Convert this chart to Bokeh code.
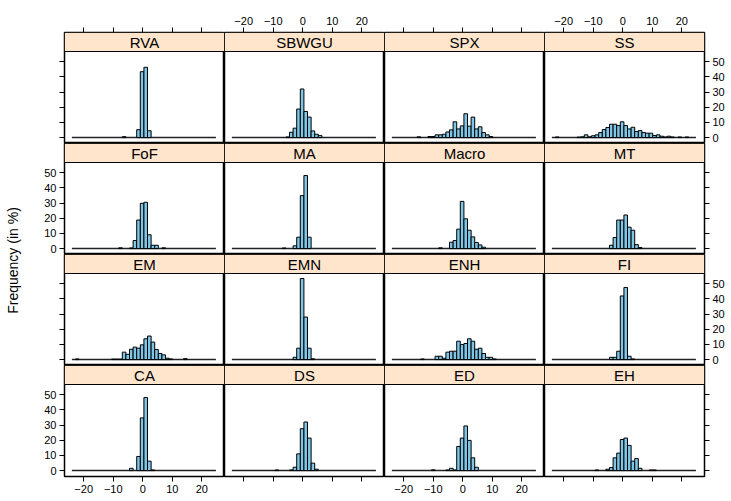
from math import pi

from bokeh.plotting import figure
from bokeh.layouts import gridplot, row
from bokeh.models import Range1d, FixedTicker, LinearAxis, BoxAnnotation, Label, ColumnDataSource
from bokeh.embed import file_html
from bokeh.resources import INLINE

# Histogram breaks shared by every panel
BREAK_START = -24.0
BIN_WIDTH = 1.22
N_BINS = 40
breaks = [BREAK_START + BIN_WIDTH * i for i in range(N_BINS + 1)]

x_ticks = [-20, -10, 0, 10, 20]
y_ticks = [0, 10, 20, 30, 40, 50]

# Panels, top row first
panel_rows = [
    ["RVA", "SBWGU", "SPX", "SS"],
    ["FoF", "MA", "Macro", "MT"],
    ["EM", "EMN", "ENH", "FI"],
    ["CA", "DS", "ED", "EH"],
]

# Frequency (in %) per bin index; bins not listed are empty
RVA = {14: 0.6, 18: 5.2, 19: 43.4, 20: 46.3, 21: 4.5}
SBWGU = {15: 0.4, 16: 3.5, 17: 6.2, 18: 18.8, 19: 32.0, 20: 17.2, 21: 13.5, 22: 4.4, 23: 2.2, 24: 1.3}
SPX = {7: 0.5, 10: 0.7, 11: 0.7, 12: 1.8, 13: 1.8, 14: 2.2, 15: 3.7, 16: 5.1, 17: 10.4, 18: 5.7,
       19: 7.7, 20: 15.7, 21: 7.5, 22: 13.5, 23: 5.7, 24: 7.1, 25: 3.3, 26: 1.8, 27: 0.7}
SS = {1: 0.4, 7: 0.3, 8: 0.5, 9: 1.8, 10: 0.5, 11: 1.2, 12: 1.8, 13: 3.3, 14: 5.3, 15: 6.6,
      16: 8.8, 17: 8.8, 18: 7.9, 19: 10.4, 20: 7.9, 21: 5.7, 22: 6.8, 23: 4.0, 24: 4.6, 25: 3.3,
      26: 2.9, 27: 2.9, 28: 1.3, 29: 1.8, 30: 0.9, 31: 0.4, 32: 0.9, 33: 0.4, 35: 0.4, 37: 0.4}
FoF = {13: 0.5, 16: 0.4, 17: 5.3, 18: 18.8, 19: 29.8, 20: 30.5, 21: 9.1, 22: 2.2, 23: 2.2, 25: 0.5}
MA = {14: 0.4, 17: 1.8, 18: 7.5, 19: 34.9, 20: 48.1, 21: 7.5}
Macro = {13: 0.5, 16: 4.2, 17: 5.3, 18: 12.8, 19: 31.1, 20: 19.6, 21: 12.1, 22: 7.7, 23: 4.0, 24: 2.4, 25: 0.9}
MT = {16: 2.2, 17: 7.3, 18: 18.8, 19: 18.8, 20: 22.1, 21: 14.1, 22: 12.1, 23: 2.6, 24: 0.7}
EM = {1: 0.4, 11: 0.3, 12: 0.3, 13: 0.3, 14: 4.9, 15: 3.5, 16: 6.8, 17: 8.2, 18: 7.5, 19: 9.7,
      20: 13.7, 21: 15.5, 22: 11.5, 23: 6.6, 24: 4.0, 25: 3.1, 26: 0.9, 27: 0.4, 31: 0.6}
EMN = {17: 1.5, 18: 7.5, 19: 53.4, 20: 28.0, 21: 7.5, 22: 0.5}
ENH = {8: 0.4, 12: 2.2, 13: 2.2, 14: 0.9, 15: 4.9, 16: 5.5, 17: 5.5, 18: 12.1, 19: 9.9, 20: 10.6,
       21: 13.7, 22: 12.1, 23: 6.8, 24: 7.5, 25: 4.0, 26: 1.5, 27: 1.5, 28: 0.4}
FI = {16: 1.5, 17: 1.5, 18: 5.5, 19: 41.9, 20: 47.5, 21: 2.2, 22: 0.4}
CA = {16: 1.5, 18: 9.3, 19: 34.7, 20: 48.1, 21: 6.2, 22: 0.4}
DS = {12: 0.4, 16: 0.4, 17: 2.2, 18: 11.0, 19: 27.6, 20: 32.0, 21: 21.4, 22: 4.9, 23: 0.9}
ED = {11: 0.5, 15: 0.4, 16: 1.5, 17: 0.4, 18: 15.9, 19: 21.4, 20: 29.4, 21: 19.9, 22: 8.4, 23: 2.2}
EH = {12: 0.4, 15: 0.9, 16: 2.0, 17: 8.4, 18: 11.5, 19: 20.5, 20: 21.4, 21: 16.6, 22: 6.2, 23: 7.9,
      24: 1.5, 27: 0.4, 28: 0.4}

series = {
    "RVA": RVA, "SBWGU": SBWGU, "SPX": SPX, "SS": SS,
    "FoF": FoF, "MA": MA, "Macro": Macro, "MT": MT,
    "EM": EM, "EMN": EMN, "ENH": ENH, "FI": FI,
    "CA": CA, "DS": DS, "ED": ED, "EH": EH,
}

# Styling and layout
FONT = "Liberation Sans"
STRIP_FILL = "#FFE5CC"
BAR_FILL = "#7EC6E8"

X_LIM = (-26.5, 27.7)
Y_LOW, Y_PANEL_TOP = -3.9, 56.7
PANEL_PX, STRIP_PX, PANEL_W = 92, 19, 160
units_per_px = (Y_PANEL_TOP - Y_LOW) / PANEL_PX
Y_HIGH = Y_PANEL_TOP + STRIP_PX * units_per_px
FRAME_H = PANEL_PX + STRIP_PX

LABEL_W = 22
LEFT_PAD, RIGHT_PAD, TOP_PAD, BOTTOM_PAD = 42, 27, 32, 25
TOTAL_H = TOP_PAD + 4 * FRAME_H + BOTTOM_PAD

MINUS_LABELS = {-20: "\u221220", -10: "\u221210"}


def style_axis(ax, ticks, show_labels, overrides=None):
    ax.ticker = FixedTicker(ticks=ticks)
    ax.axis_line_color = None
    ax.major_tick_in = 0
    ax.major_tick_out = 5
    ax.major_tick_line_color = "black"
    ax.major_tick_line_width = 1
    ax.minor_tick_line_color = None
    ax.major_label_standoff = 3
    ax.major_label_text_font = FONT
    ax.major_label_text_font_size = "11px"
    ax.major_label_text_color = "black" if show_labels else None
    if overrides:
        ax.major_label_overrides = overrides


def make_panel(r, c, name):
    width = PANEL_W + (LEFT_PAD if c == 0 else 0) + (RIGHT_PAD if c == 3 else 0)
    height = FRAME_H + (TOP_PAD if r == 0 else 0) + (BOTTOM_PAD if r == 3 else 0)
    p = figure(
        width=width, height=height,
        x_range=Range1d(*X_LIM), y_range=Range1d(Y_LOW, Y_HIGH),
        x_axis_location=None, y_axis_location=None,
        toolbar_location=None, output_backend="svg",
        min_border_left=LEFT_PAD if c == 0 else 0,
        min_border_right=RIGHT_PAD if c == 3 else 0,
        min_border_top=TOP_PAD if r == 0 else 0,
        min_border_bottom=BOTTOM_PAD if r == 3 else 0,
        background_fill_color="white", border_fill_color="white",
    )
    p.grid.visible = False
    p.outline_line_color = "black"
    p.outline_line_width = 1.5

    counts = series[name]
    bins = sorted(counts)
    src = ColumnDataSource(dict(
        left=[breaks[k] for k in bins],
        right=[breaks[k + 1] for k in bins],
        top=[counts[k] for k in bins],
    ))
    # empty bins collapse onto the baseline
    p.line(x=[breaks[0], breaks[-1]], y=[0, 0], line_color="#222222", line_width=1.5)
    p.quad(left="left", right="right", bottom=0, top="top", source=src,
           fill_color=BAR_FILL, line_color="black", line_width=1)

    # strip with the panel name
    p.add_layout(BoxAnnotation(left=X_LIM[0], right=X_LIM[1], bottom=Y_PANEL_TOP, top=Y_HIGH,
                               fill_color=STRIP_FILL, fill_alpha=1.0,
                               line_color="black", line_width=1, line_alpha=1.0))
    p.add_layout(Label(x=(X_LIM[0] + X_LIM[1]) / 2, y=(Y_PANEL_TOP + Y_HIGH) / 2, text=name,
                       text_align="center", text_baseline="middle",
                       text_font=FONT, text_font_size="15px", text_color="black"))

    # alternating axes around the outer panels
    if r == 0:
        ax = LinearAxis()
        style_axis(ax, x_ticks, c in (1, 3), MINUS_LABELS)
        p.add_layout(ax, "above")
    if r == 3:
        ax = LinearAxis()
        style_axis(ax, x_ticks, c in (0, 2), MINUS_LABELS)
        p.add_layout(ax, "below")
    if c == 0:
        ax = LinearAxis()
        style_axis(ax, y_ticks, r in (1, 3))
        p.add_layout(ax, "left")
    if c == 3:
        ax = LinearAxis()
        style_axis(ax, y_ticks, r in (0, 2))
        p.add_layout(ax, "right")
    return p


panels = [[make_panel(r, c, name) for c, name in enumerate(names)] for r, names in enumerate(panel_rows)]
grid = gridplot(panels, toolbar_location=None)

# shared y-axis title
lab = figure(width=LABEL_W, height=TOTAL_H, x_range=Range1d(0, 1), y_range=Range1d(0, 1),
             x_axis_location=None, y_axis_location=None, toolbar_location=None,
             output_backend="svg", min_border=0, outline_line_color=None)
lab.grid.visible = False
lab.add_layout(Label(x=0.55, y=1 - 260 / TOTAL_H, text="Frequency (in %)", angle=pi / 2,
                     text_align="center", text_baseline="middle",
                     text_font=FONT, text_font_size="14px", text_color="black"))

layout = row(lab, grid)

with open("out.html", "w") as f:
    f.write(file_html(layout, INLINE))
